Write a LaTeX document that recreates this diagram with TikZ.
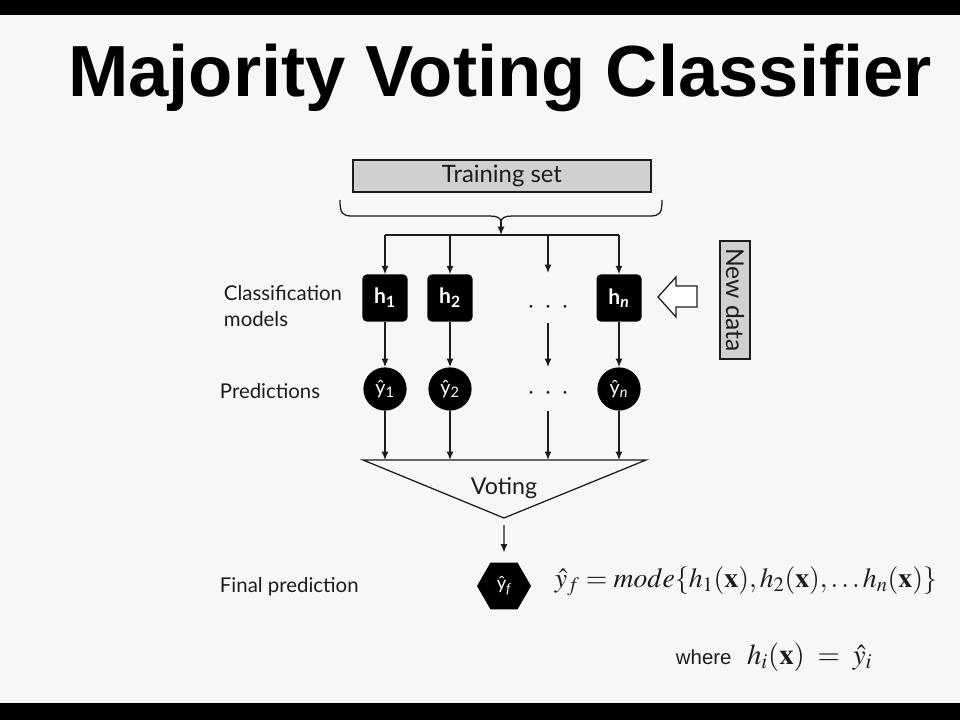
\documentclass[tikz,border=0pt]{standalone}
\usepackage{mathptmx}
\usepackage[no-math]{fontspec}
\setmainfont{Lato}
\newfontfamily\headfont{Liberation Sans}
\usetikzlibrary{positioning,shapes.geometric,arrows.meta}
\definecolor{paper}{RGB}{247,247,247}
\definecolor{boxgray}{RGB}{208,208,208}
\definecolor{ink}{RGB}{28,28,28}
\tikzset{
  flow/.style={-{Latex[length=6pt,width=5pt]}, line width=0.9pt, draw=ink},
  graybox/.style={draw=ink, fill=boxgray, line width=0.9pt, text=ink, inner sep=0pt},
  model/.style={fill=black, rounded corners=3pt, minimum width=1.125cm, minimum height=1.175cm,
    text=white, inner sep=0pt, font=\fontsize{15}{15}\selectfont\bfseries},
  pred/.style={circle, fill=black, minimum size=1.08cm, inner sep=0pt, text=white,
    font=\fontsize{14}{14}\selectfont},
  final/.style={regular polygon, regular polygon sides=6, fill=black, minimum size=1.35cm,
    inner sep=0pt, text=white, font=\fontsize{13}{13}\selectfont},
  sidelabel/.style={anchor=west, align=left, text=ink, font=\fontsize{14.5}{19}\selectfont},
  dotsnode/.style={inner sep=0pt, text=ink, font=\fontsize{19}{19}\selectfont},
}
\begin{document}
\begin{tikzpicture}[x=0.025cm,y=-0.025cm]
\useasboundingbox (0,0) rectangle (960,720);
% frame of the slide
\fill[black] (0,0) rectangle (960,720);
\fill[paper] (0,15) rectangle (960,703);
\node[anchor=base, text=black, font=\headfont\bfseries\fontsize{51.5}{56}\selectfont] (title) at (500,97) {Majority Voting Classifier};

% training set and brace
\node[graybox, minimum width=7.45cm, minimum height=0.8cm, font=\fontsize{17}{17}\selectfont] (train) at (502,176) {Training set};
\draw[line width=0.9pt, ink] (340,200) .. controls (340,213) and (342,216) .. (352,216) -- (490,216)
      .. controls (497,216) and (501,218) .. (501,222)
      .. controls (501,218) and (505,216) .. (512,216) -- (650,216)
      .. controls (660,216) and (662,213) .. (662,200);
\coordinate (btip) at (501,222);
\coordinate (split) at (501,235);
\draw[flow] (btip) -- (split);
\coordinate (t1) at (385,235);
\coordinate (t2) at (450,235);
\coordinate (t3) at (548,235);
\coordinate (t4) at (619,235);
\draw[line width=0.9pt, ink] (t1) -- (t4);

% classification models
\node[model] (h1) at (385,298) {h\textsubscript{1}};
\node[model] (h2) at (450,298) {h\textsubscript{2}};
\node[model] (hn) at (619,298) {h\textsubscript{\itshape n}};
\node[dotsnode] (d1) at (548,308) {$\cdot\;\cdot\;\cdot$};
\coordinate (m1) at (548,273);
\coordinate (m2) at (548,323);
\coordinate (m3) at (548,367);
\draw[flow] (t1) -- (h1);
\draw[flow] (t2) -- (h2);
\draw[flow] (t3) -- (m1);
\draw[flow] (t4) -- (hn);

% predictions
\node[pred] (y1) at (385,389) {ŷ\textsubscript{1}};
\node[pred] (y2) at (450,389) {ŷ\textsubscript{2}};
\node[pred] (yn) at (619,389) {ŷ\textsubscript{\itshape n}};
\node[dotsnode] (d2) at (548,394) {$\cdot\;\cdot\;\cdot$};
\coordinate (m4) at (548,411);
\draw[flow] (h1) -- (y1);
\draw[flow] (h2) -- (y2);
\draw[flow] (m2) -- (m3);
\draw[flow] (hn) -- (yn);

% voting
\coordinate (vl) at (363,460);
\coordinate (vr) at (646,460);
\coordinate (vtip) at (504,518);
\draw[line width=0.9pt, ink] (vl) -- (vr) -- (vtip) -- cycle;
\node[text=ink, font=\fontsize{16.5}{17}\selectfont] (vote) at (504,488) {Voting};
\coordinate (v1) at (385,460);
\coordinate (v2) at (450,460);
\coordinate (v3) at (548,460);
\coordinate (v4) at (619,460);
\draw[flow] (y1) -- (v1);
\draw[flow] (y2) -- (v2);
\draw[flow] (m4) -- (v3);
\draw[flow] (yn) -- (v4);

% final prediction
\node[final] (fin) at (504,586) {ŷ\textsubscript{\itshape f}};
\draw[flow, shorten <=5pt, shorten >=7pt] (vtip) -- (fin);
\node[anchor=west, text=ink, font=\fontsize{19.7}{22}\selectfont] (rule) at (550,581)
  {$\hat{y}_f = mode\{h_1(\mathbf{x}), h_2(\mathbf{x}), \ldots h_n(\mathbf{x})\}$};
\node[anchor=base west, text=ink, font=\headfont\fontsize{14.5}{16}\selectfont] (where) at (671,664) {where};
\node[anchor=base west, text=ink, font=\fontsize{20.5}{22}\selectfont] (whereeq) at ([xshift=4pt]where.base east)
  {$h_i(\mathbf{x}) \;=\; \hat{y}_i$};

% new data
\node[graybox, rotate=-90, minimum width=2.95cm, minimum height=0.75cm, font=\fontsize{17.5}{18}\selectfont] (newdata) at (735,300) {New data};
\draw[line width=0.9pt, ink, fill=white] (658,297) -- (676,277) -- (676,286) -- (697,286)
      -- (697,307) -- (676,307) -- (676,317) -- cycle;

% row labels
\node[sidelabel] (lmodels) at (219,306) {Classification\\models};
\node[sidelabel] (lpred) at (215,391) {Predictions};
\node[sidelabel] (lfinal) at (215,587) {Final prediction};
\end{tikzpicture}
\end{document}
